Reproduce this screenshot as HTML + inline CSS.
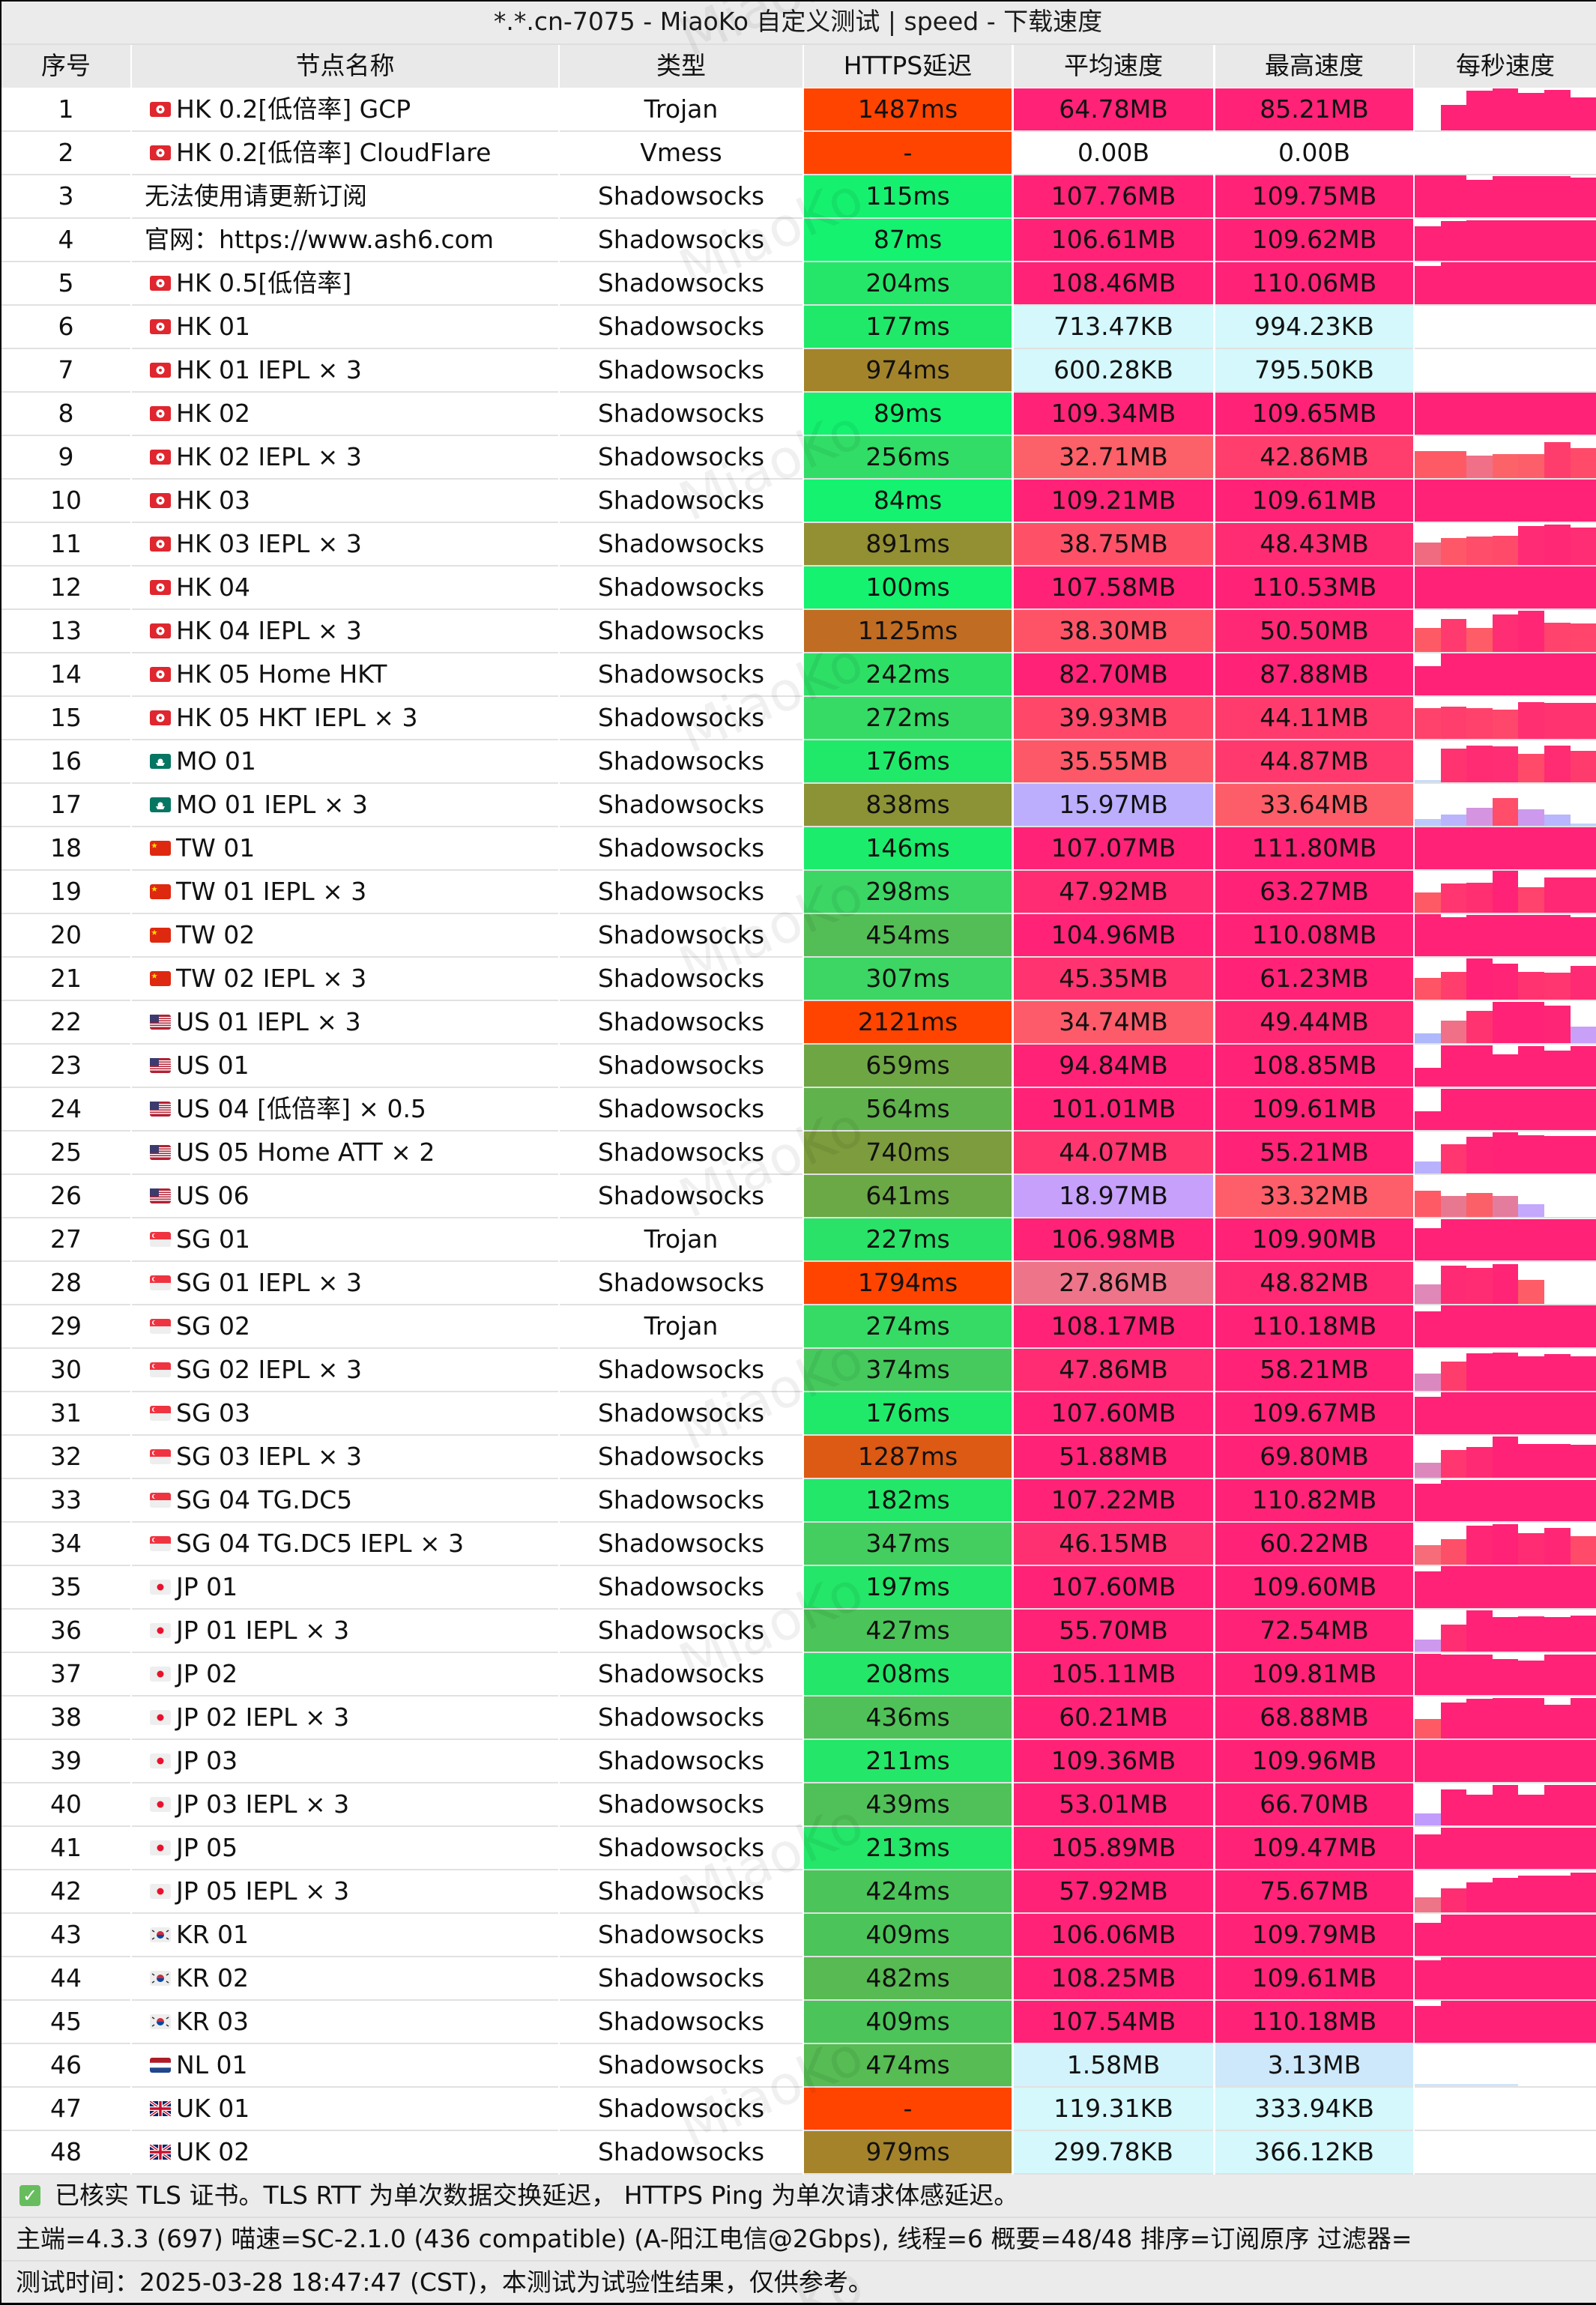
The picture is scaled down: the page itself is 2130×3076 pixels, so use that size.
<!DOCTYPE html>
<html><head><meta charset="utf-8"><style>
*{margin:0;padding:0;box-sizing:border-box}
body{width:2130px;height:3076px;overflow:hidden;background:#fff;font-family:"DejaVu Sans","Noto Sans CJK SC",sans-serif;font-size:33px;color:#111}
#w{position:relative;width:2130px;height:3076px;overflow:hidden;background:#fff}
.ttl{position:absolute;left:0;top:0;width:2130px;height:58px;background:#ebebeb;border-top:2px solid #000;line-height:54px;text-align:center;color:#1a1a1a}
.sep{position:absolute;left:0;top:58px;width:2130px;height:2px;background:#dedede}
.hr{position:absolute;left:0;top:60px;width:2130px;height:57px}
.hr>div{position:absolute;top:0;height:57px;line-height:55px;background:#e9e9e9;text-align:center;white-space:nowrap}
.nh{left:176px;width:569px}
.r{position:absolute;left:0;width:2130px;height:58px}
.r>div{position:absolute;top:0;height:58px;border-bottom:2px solid #e1e1e1;line-height:56px;text-align:center;white-space:nowrap}
.a{left:2px;width:172px}
.r>.n{left:176px;width:569px;text-align:left;padding-left:59px}
.r>.nf{padding-left:17px}
.t{left:747px;width:324px}
.h{left:1073px;width:277px}
.v{left:1353px;width:266px}
.m{left:1622px;width:264px}
.s{left:1888px;width:242px;overflow:hidden}
.s i{position:absolute;bottom:0;height:56px;background:#ff2277;display:block}
.k0{left:0;width:35px}.k1{left:35px;width:34px}.k2{left:69px;width:35px}.k3{left:104px;width:34px}.k4{left:138px;width:35px}.k5{left:173px;width:35px}.k6{left:208px;width:34px}
.P{background:#ff2277}
.C{background:#d4f8fb}
.f{position:absolute;left:24px;top:18px;width:28px;height:20px}
.ft{position:absolute;left:0;width:2130px;height:58px;background:#ebebeb;line-height:56px;padding-left:21px;white-space:nowrap;border-bottom:2px solid #dcdcdc}
.lb{position:absolute;left:0;top:0;width:2px;height:3076px;background:#000;z-index:6}
.bb{position:absolute;left:0;top:3073px;width:2130px;height:3px;background:#000;z-index:6}
.ck{position:absolute;left:26px;top:14px;width:28px;height:28px;background:#67bd5d;border-radius:4px;color:#fff;font-size:24px;line-height:28px;text-align:center}
.wm{position:absolute;z-index:5;left:900px;font-size:72px;line-height:1;color:rgba(0,0,0,.06);transform:rotate(-24deg);white-space:nowrap;font-family:"DejaVu Sans",sans-serif}
</style></head><body><div id="w">

<div class="ttl">*.*.cn-7075 - MiaoKo 自定义测试 | speed - 下载速度</div>
<div class="sep"></div>
<div class="hr">
<div class="a">序号</div><div class="nh">节点名称</div><div class="t">类型</div><div class="h">HTTPS延迟</div><div class="v">平均速度</div><div class="m">最高速度</div><div class="s">每秒速度</div>
</div>

<div class="r" style="top:118px"><div class="a">1</div><div class="n"><svg class="f" viewBox="0 0 28 20"><rect width="28" height="20" rx="3" fill="#e0262e"/><circle cx="14" cy="10" r="5.5" fill="#fff"/><circle cx="14" cy="10" r="2" fill="#e0262e"/></svg>HK 0.2[低倍率] GCP</div><div class="t">Trojan</div><div class="h" style="background:#ff4400">1487ms</div><div class="v P">64.78MB</div><div class="m P">85.21MB</div><div class="s"><i class="k1" style="height:34px"></i><i class="k2" style="height:53px"></i><i class="k3"></i><i class="k4" style="height:50px"></i><i class="k5" style="height:54px"></i><i class="k6" style="height:44px"></i></div></div>

<div class="r" style="top:176px"><div class="a">2</div><div class="n"><svg class="f" viewBox="0 0 28 20"><rect width="28" height="20" rx="3" fill="#e0262e"/><circle cx="14" cy="10" r="5.5" fill="#fff"/><circle cx="14" cy="10" r="2" fill="#e0262e"/></svg>HK 0.2[低倍率] CloudFlare</div><div class="t">Vmess</div><div class="h" style="background:#ff4400">-</div><div class="v">0.00B</div><div class="m">0.00B</div><div class="s"></div></div>

<div class="r" style="top:234px"><div class="a">3</div><div class="n nf">无法使用请更新订阅</div><div class="t">Shadowsocks</div><div class="h" style="background:#16f06f">115ms</div><div class="v P">107.76MB</div><div class="m P">109.75MB</div><div class="s"><i class="k0"></i><i class="k1"></i><i class="k2" style="height:50px"></i><i class="k3" style="height:55px"></i><i class="k4" style="height:55px"></i><i class="k5" style="height:55px"></i><i class="k6" style="height:53px"></i></div></div>

<div class="r" style="top:292px"><div class="a">4</div><div class="n nf">官网：https://www.ash6.com</div><div class="t">Shadowsocks</div><div class="h" style="background:#14f270">87ms</div><div class="v P">106.61MB</div><div class="m P">109.62MB</div><div class="s"><i class="k0" style="height:46px"></i><i class="k1" style="height:53px"></i><i class="k2" style="height:54px"></i><i class="k3" style="height:54px"></i><i class="k4" style="height:54px"></i><i class="k5" style="height:54px"></i><i class="k6" style="height:54px"></i></div></div>

<div class="r" style="top:350px"><div class="a">5</div><div class="n"><svg class="f" viewBox="0 0 28 20"><rect width="28" height="20" rx="3" fill="#e0262e"/><circle cx="14" cy="10" r="5.5" fill="#fff"/><circle cx="14" cy="10" r="2" fill="#e0262e"/></svg>HK 0.5[低倍率]</div><div class="t">Shadowsocks</div><div class="h" style="background:#25e668">204ms</div><div class="v P">108.46MB</div><div class="m P">110.06MB</div><div class="s"><i class="k0" style="height:51px"></i><i class="k1"></i><i class="k2"></i><i class="k3"></i><i class="k4"></i><i class="k5"></i><i class="k6"></i></div></div>

<div class="r" style="top:408px"><div class="a">6</div><div class="n"><svg class="f" viewBox="0 0 28 20"><rect width="28" height="20" rx="3" fill="#e0262e"/><circle cx="14" cy="10" r="5.5" fill="#fff"/><circle cx="14" cy="10" r="2" fill="#e0262e"/></svg>HK 01</div><div class="t">Shadowsocks</div><div class="h" style="background:#20e96a">177ms</div><div class="v C">713.47KB</div><div class="m C">994.23KB</div><div class="s"></div></div>

<div class="r" style="top:466px"><div class="a">7</div><div class="n"><svg class="f" viewBox="0 0 28 20"><rect width="28" height="20" rx="3" fill="#e0262e"/><circle cx="14" cy="10" r="5.5" fill="#fff"/><circle cx="14" cy="10" r="2" fill="#e0262e"/></svg>HK 01 IEPL × 3</div><div class="t">Shadowsocks</div><div class="h" style="background:#a3842b">974ms</div><div class="v C">600.28KB</div><div class="m C">795.50KB</div><div class="s"></div></div>

<div class="r" style="top:524px"><div class="a">8</div><div class="n"><svg class="f" viewBox="0 0 28 20"><rect width="28" height="20" rx="3" fill="#e0262e"/><circle cx="14" cy="10" r="5.5" fill="#fff"/><circle cx="14" cy="10" r="2" fill="#e0262e"/></svg>HK 02</div><div class="t">Shadowsocks</div><div class="h" style="background:#14f270">89ms</div><div class="v P">109.34MB</div><div class="m P">109.65MB</div><div class="s"><i class="k0"></i><i class="k1"></i><i class="k2"></i><i class="k3"></i><i class="k4"></i><i class="k5"></i><i class="k6"></i></div></div>

<div class="r" style="top:582px"><div class="a">9</div><div class="n"><svg class="f" viewBox="0 0 28 20"><rect width="28" height="20" rx="3" fill="#e0262e"/><circle cx="14" cy="10" r="5.5" fill="#fff"/><circle cx="14" cy="10" r="2" fill="#e0262e"/></svg>HK 02 IEPL × 3</div><div class="t">Shadowsocks</div><div class="h" style="background:#31dd66">256ms</div><div class="v" style="background:#fc6068">32.71MB</div><div class="m" style="background:#ff3e6d">42.86MB</div><div class="s"><i class="k0" style="height:36px;background:#fe5a66"></i><i class="k1" style="height:36px;background:#fe5a66"></i><i class="k2" style="height:30px;background:#f07088"></i><i class="k3" style="height:32px;background:#fb6369"></i><i class="k4" style="height:32px;background:#fc5f69"></i><i class="k5" style="height:48px;background:#ff3d6c"></i><i class="k6" style="height:40px;background:#ff4a6a"></i></div></div>

<div class="r" style="top:640px"><div class="a">10</div><div class="n"><svg class="f" viewBox="0 0 28 20"><rect width="28" height="20" rx="3" fill="#e0262e"/><circle cx="14" cy="10" r="5.5" fill="#fff"/><circle cx="14" cy="10" r="2" fill="#e0262e"/></svg>HK 03</div><div class="t">Shadowsocks</div><div class="h" style="background:#14f270">84ms</div><div class="v P">109.21MB</div><div class="m P">109.61MB</div><div class="s"><i class="k0"></i><i class="k1"></i><i class="k2"></i><i class="k3"></i><i class="k4"></i><i class="k5"></i><i class="k6"></i></div></div>

<div class="r" style="top:698px"><div class="a">11</div><div class="n"><svg class="f" viewBox="0 0 28 20"><rect width="28" height="20" rx="3" fill="#e0262e"/><circle cx="14" cy="10" r="5.5" fill="#fff"/><circle cx="14" cy="10" r="2" fill="#e0262e"/></svg>HK 03 IEPL × 3</div><div class="t">Shadowsocks</div><div class="h" style="background:#938f33">891ms</div><div class="v" style="background:#fe5167">38.75MB</div><div class="m" style="background:#ff2b73">48.43MB</div><div class="s"><i class="k0" style="height:30px;background:#f06a80"></i><i class="k1" style="height:36px;background:#fe5868"></i><i class="k2" style="height:38px;background:#ff4d6a"></i><i class="k3" style="height:39px;background:#ff4a6a"></i><i class="k4" style="height:52px;background:#ff2b74"></i><i class="k5" style="height:54px;background:#ff2874"></i><i class="k6" style="height:50px;background:#ff2d73"></i></div></div>

<div class="r" style="top:756px"><div class="a">12</div><div class="n"><svg class="f" viewBox="0 0 28 20"><rect width="28" height="20" rx="3" fill="#e0262e"/><circle cx="14" cy="10" r="5.5" fill="#fff"/><circle cx="14" cy="10" r="2" fill="#e0262e"/></svg>HK 04</div><div class="t">Shadowsocks</div><div class="h" style="background:#14f270">100ms</div><div class="v P">107.58MB</div><div class="m P">110.53MB</div><div class="s"><i class="k0"></i><i class="k1"></i><i class="k2"></i><i class="k3"></i><i class="k4"></i><i class="k5"></i><i class="k6"></i></div></div>

<div class="r" style="top:814px"><div class="a">13</div><div class="n"><svg class="f" viewBox="0 0 28 20"><rect width="28" height="20" rx="3" fill="#e0262e"/><circle cx="14" cy="10" r="5.5" fill="#fff"/><circle cx="14" cy="10" r="2" fill="#e0262e"/></svg>HK 04 IEPL × 3</div><div class="t">Shadowsocks</div><div class="h" style="background:#c06c22">1125ms</div><div class="v" style="background:#fe5367">38.30MB</div><div class="m" style="background:#ff2874">50.50MB</div><div class="s"><i class="k0" style="height:32px;background:#fe5a66"></i><i class="k1" style="height:44px;background:#ff3a6e"></i><i class="k2" style="height:32px;background:#fe5c66"></i><i class="k3" style="height:50px;background:#ff2d73"></i><i class="k4" style="height:55px;background:#ff2775"></i><i class="k5" style="height:39px;background:#ff436c"></i><i class="k6" style="height:38px;background:#ff456c"></i></div></div>

<div class="r" style="top:872px"><div class="a">14</div><div class="n"><svg class="f" viewBox="0 0 28 20"><rect width="28" height="20" rx="3" fill="#e0262e"/><circle cx="14" cy="10" r="5.5" fill="#fff"/><circle cx="14" cy="10" r="2" fill="#e0262e"/></svg>HK 05 Home HKT</div><div class="t">Shadowsocks</div><div class="h" style="background:#2edf66">242ms</div><div class="v P">82.70MB</div><div class="m P">87.88MB</div><div class="s"><i class="k0" style="height:39px"></i><i class="k1"></i><i class="k2"></i><i class="k3"></i><i class="k4"></i><i class="k5"></i><i class="k6"></i></div></div>

<div class="r" style="top:930px"><div class="a">15</div><div class="n"><svg class="f" viewBox="0 0 28 20"><rect width="28" height="20" rx="3" fill="#e0262e"/><circle cx="14" cy="10" r="5.5" fill="#fff"/><circle cx="14" cy="10" r="2" fill="#e0262e"/></svg>HK 05 HKT IEPL × 3</div><div class="t">Shadowsocks</div><div class="h" style="background:#35db65">272ms</div><div class="v" style="background:#ff4769">39.93MB</div><div class="m" style="background:#ff3b6d">44.11MB</div><div class="s"><i class="k0" style="height:41px;background:#ff426c"></i><i class="k1" style="height:43px;background:#ff3e6d"></i><i class="k2" style="height:41px;background:#ff426c"></i><i class="k3" style="height:39px;background:#ff466b"></i><i class="k4" style="height:49px;background:#ff2f72"></i><i class="k5" style="height:48px;background:#ff3370"></i><i class="k6" style="height:48px;background:#ff3370"></i></div></div>

<div class="r" style="top:988px"><div class="a">16</div><div class="n"><svg class="f" viewBox="0 0 28 20"><rect width="28" height="20" rx="3" fill="#067662"/><circle cx="14" cy="10" r="3.5" fill="#fff"/><path d="M8 12h12l-2 4h-8z" fill="#fff"/></svg>MO 01</div><div class="t">Shadowsocks</div><div class="h" style="background:#20e96a">176ms</div><div class="v" style="background:#fd5867">35.55MB</div><div class="m" style="background:#ff396e">44.87MB</div><div class="s"><i class="k0" style="height:3px;background:#c8dcf8"></i><i class="k1" style="height:45px;background:#ff3370"></i><i class="k2" style="height:49px;background:#ff2c73"></i><i class="k3" style="height:48px;background:#ff2d73"></i><i class="k4" style="height:38px;background:#ff4a6a"></i><i class="k5" style="height:49px;background:#ff2b73"></i><i class="k6" style="height:42px;background:#ff3b6e"></i></div></div>

<div class="r" style="top:1046px"><div class="a">17</div><div class="n"><svg class="f" viewBox="0 0 28 20"><rect width="28" height="20" rx="3" fill="#067662"/><circle cx="14" cy="10" r="3.5" fill="#fff"/><path d="M8 12h12l-2 4h-8z" fill="#fff"/></svg>MO 01 IEPL × 3</div><div class="t">Shadowsocks</div><div class="h" style="background:#8b9336">838ms</div><div class="v" style="background:#bcaefd">15.97MB</div><div class="m" style="background:#fd5d68">33.64MB</div><div class="s"><i class="k0" style="height:9px;background:#bcc8fc"></i><i class="k1" style="height:15px;background:#b9b4fc"></i><i class="k2" style="height:24px;background:#d494e0"></i><i class="k3" style="height:37px;background:#ff4d6a"></i><i class="k4" style="height:22px;background:#cc99ee"></i><i class="k5" style="height:15px;background:#b8b6fd"></i><i class="k6" style="height:3px;background:#c0d0fc"></i></div></div>

<div class="r" style="top:1104px"><div class="a">18</div><div class="n"><svg class="f" viewBox="0 0 28 20"><rect width="28" height="20" rx="3" fill="#de2910"/><polygon points="6,2.5 7,5.3 10,5.3 7.6,7 8.5,9.8 6,8.1 3.5,9.8 4.4,7 2,5.3 5,5.3" fill="#ffde00"/></svg>TW 01</div><div class="t">Shadowsocks</div><div class="h" style="background:#1bec6c">146ms</div><div class="v P">107.07MB</div><div class="m P">111.80MB</div><div class="s"><i class="k0"></i><i class="k1"></i><i class="k2"></i><i class="k3"></i><i class="k4"></i><i class="k5"></i><i class="k6"></i></div></div>

<div class="r" style="top:1162px"><div class="a">19</div><div class="n"><svg class="f" viewBox="0 0 28 20"><rect width="28" height="20" rx="3" fill="#de2910"/><polygon points="6,2.5 7,5.3 10,5.3 7.6,7 8.5,9.8 6,8.1 3.5,9.8 4.4,7 2,5.3 5,5.3" fill="#ffde00"/></svg>TW 01 IEPL × 3</div><div class="t">Shadowsocks</div><div class="h" style="background:#3cd664">298ms</div><div class="v" style="background:#ff2c73">47.92MB</div><div class="m P">63.27MB</div><div class="s"><i class="k0" style="height:27px;background:#fe5a66"></i><i class="k1" style="height:39px;background:#ff3670"></i><i class="k2" style="height:40px;background:#ff2f72"></i><i class="k3"></i><i class="k4" style="height:34px;background:#ff436c"></i><i class="k5" style="height:47px;background:#ff2875"></i><i class="k6" style="height:47px;background:#ff2875"></i></div></div>

<div class="r" style="top:1220px"><div class="a">20</div><div class="n"><svg class="f" viewBox="0 0 28 20"><rect width="28" height="20" rx="3" fill="#de2910"/><polygon points="6,2.5 7,5.3 10,5.3 7.6,7 8.5,9.8 6,8.1 3.5,9.8 4.4,7 2,5.3 5,5.3" fill="#ffde00"/></svg>TW 02</div><div class="t">Shadowsocks</div><div class="h" style="background:#53be55">454ms</div><div class="v P">104.96MB</div><div class="m P">110.08MB</div><div class="s"><i class="k0"></i><i class="k1" style="height:52px"></i><i class="k2" style="height:55px"></i><i class="k3" style="height:55px"></i><i class="k4" style="height:55px"></i><i class="k5" style="height:55px"></i><i class="k6" style="height:52px"></i></div></div>

<div class="r" style="top:1278px"><div class="a">21</div><div class="n"><svg class="f" viewBox="0 0 28 20"><rect width="28" height="20" rx="3" fill="#de2910"/><polygon points="6,2.5 7,5.3 10,5.3 7.6,7 8.5,9.8 6,8.1 3.5,9.8 4.4,7 2,5.3 5,5.3" fill="#ffde00"/></svg>TW 02 IEPL × 3</div><div class="t">Shadowsocks</div><div class="h" style="background:#3dd563">307ms</div><div class="v" style="background:#ff3370">45.35MB</div><div class="m P">61.23MB</div><div class="s"><i class="k0" style="height:29px;background:#fe5466"></i><i class="k1" style="height:37px;background:#ff3e6d"></i><i class="k2" style="height:55px"></i><i class="k3" style="height:48px;background:#ff2475"></i><i class="k4" style="height:37px;background:#ff3370"></i><i class="k5" style="height:36px;background:#ff3670"></i><i class="k6" style="height:45px;background:#ff2a74"></i></div></div>

<div class="r" style="top:1336px"><div class="a">22</div><div class="n"><svg class="f" viewBox="0 0 28 20"><rect width="28" height="20" rx="3" fill="#b22234"/><path d="M0 3h28v1.5H0zM0 6h28v1.5H0zM0 9h28v1.5H0zM0 12h28v1.5H0zM0 15h28v1.5H0z" fill="#fff"/><rect width="12" height="10.5" fill="#3c3b6e"/></svg>US 01 IEPL × 3</div><div class="t">Shadowsocks</div><div class="h" style="background:#ff4400">2121ms</div><div class="v" style="background:#fd5b6a">34.74MB</div><div class="m" style="background:#ff2873">49.44MB</div><div class="s"><i class="k0" style="height:13px;background:#b0b8fc"></i><i class="k1" style="height:30px;background:#f07088"></i><i class="k2" style="height:43px;background:#ff3370"></i><i class="k3" style="height:55px"></i><i class="k4" style="height:55px"></i><i class="k5" style="height:50px;background:#ff2576"></i><i class="k6" style="height:22px;background:#c8a0f8"></i></div></div>

<div class="r" style="top:1394px"><div class="a">23</div><div class="n"><svg class="f" viewBox="0 0 28 20"><rect width="28" height="20" rx="3" fill="#b22234"/><path d="M0 3h28v1.5H0zM0 6h28v1.5H0zM0 9h28v1.5H0zM0 12h28v1.5H0zM0 15h28v1.5H0z" fill="#fff"/><rect width="12" height="10.5" fill="#3c3b6e"/></svg>US 01</div><div class="t">Shadowsocks</div><div class="h" style="background:#6ea644">659ms</div><div class="v P">94.84MB</div><div class="m P">108.85MB</div><div class="s"><i class="k0" style="height:25px"></i><i class="k1" style="height:55px"></i><i class="k2" style="height:55px"></i><i class="k3" style="height:43px"></i><i class="k4" style="height:54px"></i><i class="k5" style="height:48px"></i><i class="k6" style="height:54px"></i></div></div>

<div class="r" style="top:1452px"><div class="a">24</div><div class="n"><svg class="f" viewBox="0 0 28 20"><rect width="28" height="20" rx="3" fill="#b22234"/><path d="M0 3h28v1.5H0zM0 6h28v1.5H0zM0 9h28v1.5H0zM0 12h28v1.5H0zM0 15h28v1.5H0z" fill="#fff"/><rect width="12" height="10.5" fill="#3c3b6e"/></svg>US 04 [低倍率] × 0.5</div><div class="t">Shadowsocks</div><div class="h" style="background:#60b24c">564ms</div><div class="v P">101.01MB</div><div class="m P">109.61MB</div><div class="s"><i class="k0" style="height:25px"></i><i class="k1" style="height:55px"></i><i class="k2" style="height:55px"></i><i class="k3" style="height:55px"></i><i class="k4" style="height:55px"></i><i class="k5" style="height:55px"></i><i class="k6" style="height:55px"></i></div></div>

<div class="r" style="top:1510px"><div class="a">25</div><div class="n"><svg class="f" viewBox="0 0 28 20"><rect width="28" height="20" rx="3" fill="#b22234"/><path d="M0 3h28v1.5H0zM0 6h28v1.5H0zM0 9h28v1.5H0zM0 12h28v1.5H0zM0 15h28v1.5H0z" fill="#fff"/><rect width="12" height="10.5" fill="#3c3b6e"/></svg>US 05 Home ATT × 2</div><div class="t">Shadowsocks</div><div class="h" style="background:#7c9c3d">740ms</div><div class="v" style="background:#ff3570">44.07MB</div><div class="m P">55.21MB</div><div class="s"><i class="k0" style="height:16px;background:#b8b2fc"></i><i class="k1" style="height:39px;background:#ff3670"></i><i class="k2" style="height:49px;background:#ff2576"></i><i class="k3" style="height:55px"></i><i class="k4" style="height:51px"></i><i class="k5" style="height:50px"></i><i class="k6" style="height:50px"></i></div></div>

<div class="r" style="top:1568px"><div class="a">26</div><div class="n"><svg class="f" viewBox="0 0 28 20"><rect width="28" height="20" rx="3" fill="#b22234"/><path d="M0 3h28v1.5H0zM0 6h28v1.5H0zM0 9h28v1.5H0zM0 12h28v1.5H0zM0 15h28v1.5H0z" fill="#fff"/><rect width="12" height="10.5" fill="#3c3b6e"/></svg>US 06</div><div class="t">Shadowsocks</div><div class="h" style="background:#6ba846">641ms</div><div class="v" style="background:#c6a0fa">18.97MB</div><div class="m" style="background:#fd5e69">33.32MB</div><div class="s"><i class="k0" style="height:35px;background:#fe5a66"></i><i class="k1" style="height:28px;background:#e87890"></i><i class="k2" style="height:32px;background:#fb6068"></i><i class="k3" style="height:28px;background:#e47c9e"></i><i class="k4" style="height:17px;background:#c4a8fc"></i></div></div>

<div class="r" style="top:1626px"><div class="a">27</div><div class="n"><svg class="f" viewBox="0 0 28 20"><rect width="28" height="20" rx="3" fill="#eee"/><path d="M3 0h22a3 3 0 0 1 3 3v7H0V3a3 3 0 0 1 3-3z" fill="#ef3340"/><circle cx="6" cy="5" r="3" fill="#fff"/><circle cx="7.3" cy="5" r="2.7" fill="#ef3340"/></svg>SG 01</div><div class="t">Trojan</div><div class="h" style="background:#2ae267">227ms</div><div class="v P">106.98MB</div><div class="m P">109.90MB</div><div class="s"><i class="k0" style="height:43px"></i><i class="k1" style="height:55px"></i><i class="k2" style="height:55px"></i><i class="k3" style="height:55px"></i><i class="k4" style="height:55px"></i><i class="k5" style="height:55px"></i><i class="k6" style="height:55px"></i></div></div>

<div class="r" style="top:1684px"><div class="a">28</div><div class="n"><svg class="f" viewBox="0 0 28 20"><rect width="28" height="20" rx="3" fill="#eee"/><path d="M3 0h22a3 3 0 0 1 3 3v7H0V3a3 3 0 0 1 3-3z" fill="#ef3340"/><circle cx="6" cy="5" r="3" fill="#fff"/><circle cx="7.3" cy="5" r="2.7" fill="#ef3340"/></svg>SG 01 IEPL × 3</div><div class="t">Shadowsocks</div><div class="h" style="background:#ff4400">1794ms</div><div class="v" style="background:#ee7489">27.86MB</div><div class="m" style="background:#ff2a73">48.82MB</div><div class="s"><i class="k0" style="height:26px;background:#e088b8"></i><i class="k1" style="height:51px;background:#ff2a74"></i><i class="k2" style="height:48px;background:#ff2c73"></i><i class="k3" style="height:53px;background:#ff2475"></i><i class="k4" style="height:32px;background:#fe5c66"></i></div></div>

<div class="r" style="top:1742px"><div class="a">29</div><div class="n"><svg class="f" viewBox="0 0 28 20"><rect width="28" height="20" rx="3" fill="#eee"/><path d="M3 0h22a3 3 0 0 1 3 3v7H0V3a3 3 0 0 1 3-3z" fill="#ef3340"/><circle cx="6" cy="5" r="3" fill="#fff"/><circle cx="7.3" cy="5" r="2.7" fill="#ef3340"/></svg>SG 02</div><div class="t">Trojan</div><div class="h" style="background:#36db65">274ms</div><div class="v P">108.17MB</div><div class="m P">110.18MB</div><div class="s"><i class="k0" style="height:48px"></i><i class="k1"></i><i class="k2"></i><i class="k3"></i><i class="k4"></i><i class="k5"></i><i class="k6"></i></div></div>

<div class="r" style="top:1800px"><div class="a">30</div><div class="n"><svg class="f" viewBox="0 0 28 20"><rect width="28" height="20" rx="3" fill="#eee"/><path d="M3 0h22a3 3 0 0 1 3 3v7H0V3a3 3 0 0 1 3-3z" fill="#ef3340"/><circle cx="6" cy="5" r="3" fill="#fff"/><circle cx="7.3" cy="5" r="2.7" fill="#ef3340"/></svg>SG 02 IEPL × 3</div><div class="t">Shadowsocks</div><div class="h" style="background:#46ca5d">374ms</div><div class="v" style="background:#ff2c73">47.86MB</div><div class="m P">58.21MB</div><div class="s"><i class="k0" style="height:23px;background:#dc88c0"></i><i class="k1" style="height:39px;background:#ff3d6c"></i><i class="k2" style="height:50px"></i><i class="k3" style="height:51px"></i><i class="k4" style="height:46px"></i><i class="k5" style="height:49px"></i><i class="k6" style="height:46px"></i></div></div>

<div class="r" style="top:1858px"><div class="a">31</div><div class="n"><svg class="f" viewBox="0 0 28 20"><rect width="28" height="20" rx="3" fill="#eee"/><path d="M3 0h22a3 3 0 0 1 3 3v7H0V3a3 3 0 0 1 3-3z" fill="#ef3340"/><circle cx="6" cy="5" r="3" fill="#fff"/><circle cx="7.3" cy="5" r="2.7" fill="#ef3340"/></svg>SG 03</div><div class="t">Shadowsocks</div><div class="h" style="background:#20e96a">176ms</div><div class="v P">107.60MB</div><div class="m P">109.67MB</div><div class="s"><i class="k0" style="height:50px"></i><i class="k1"></i><i class="k2"></i><i class="k3"></i><i class="k4"></i><i class="k5"></i><i class="k6"></i></div></div>

<div class="r" style="top:1916px"><div class="a">32</div><div class="n"><svg class="f" viewBox="0 0 28 20"><rect width="28" height="20" rx="3" fill="#eee"/><path d="M3 0h22a3 3 0 0 1 3 3v7H0V3a3 3 0 0 1 3-3z" fill="#ef3340"/><circle cx="6" cy="5" r="3" fill="#fff"/><circle cx="7.3" cy="5" r="2.7" fill="#ef3340"/></svg>SG 03 IEPL × 3</div><div class="t">Shadowsocks</div><div class="h" style="background:#dc5a14">1287ms</div><div class="v P">51.88MB</div><div class="m P">69.80MB</div><div class="s"><i class="k0" style="height:20px;background:#dc88bc"></i><i class="k1" style="height:37px;background:#ff3670"></i><i class="k2" style="height:41px;background:#ff2a74"></i><i class="k3" style="height:55px"></i><i class="k4" style="height:45px"></i><i class="k5" style="height:45px"></i><i class="k6" style="height:44px"></i></div></div>

<div class="r" style="top:1974px"><div class="a">33</div><div class="n"><svg class="f" viewBox="0 0 28 20"><rect width="28" height="20" rx="3" fill="#eee"/><path d="M3 0h22a3 3 0 0 1 3 3v7H0V3a3 3 0 0 1 3-3z" fill="#ef3340"/><circle cx="6" cy="5" r="3" fill="#fff"/><circle cx="7.3" cy="5" r="2.7" fill="#ef3340"/></svg>SG 04 TG.DC5</div><div class="t">Shadowsocks</div><div class="h" style="background:#22e769">182ms</div><div class="v P">107.22MB</div><div class="m P">110.82MB</div><div class="s"><i class="k0" style="height:50px"></i><i class="k1" style="height:55px"></i><i class="k2" style="height:55px"></i><i class="k3" style="height:55px"></i><i class="k4" style="height:55px"></i><i class="k5" style="height:55px"></i><i class="k6" style="height:55px"></i></div></div>

<div class="r" style="top:2032px"><div class="a">34</div><div class="n"><svg class="f" viewBox="0 0 28 20"><rect width="28" height="20" rx="3" fill="#eee"/><path d="M3 0h22a3 3 0 0 1 3 3v7H0V3a3 3 0 0 1 3-3z" fill="#ef3340"/><circle cx="6" cy="5" r="3" fill="#fff"/><circle cx="7.3" cy="5" r="2.7" fill="#ef3340"/></svg>SG 04 TG.DC5 IEPL × 3</div><div class="t">Shadowsocks</div><div class="h" style="background:#43ce5f">347ms</div><div class="v" style="background:#ff3072">46.15MB</div><div class="m P">60.22MB</div><div class="s"><i class="k0" style="height:26px;background:#f66c78"></i><i class="k1" style="height:34px;background:#fe4f69"></i><i class="k2" style="height:52px;background:#ff2676"></i><i class="k3" style="height:54px"></i><i class="k4" style="height:42px;background:#ff2c73"></i><i class="k5" style="height:49px;background:#ff2775"></i><i class="k6" style="height:38px;background:#ff4a6a"></i></div></div>

<div class="r" style="top:2090px"><div class="a">35</div><div class="n"><svg class="f" viewBox="0 0 28 20"><rect width="28" height="20" rx="3" fill="#eee"/><circle cx="14" cy="10" r="4.5" fill="#e8112d"/></svg>JP 01</div><div class="t">Shadowsocks</div><div class="h" style="background:#24e668">197ms</div><div class="v P">107.60MB</div><div class="m P">109.60MB</div><div class="s"><i class="k0" style="height:49px"></i><i class="k1"></i><i class="k2"></i><i class="k3"></i><i class="k4"></i><i class="k5"></i><i class="k6"></i></div></div>

<div class="r" style="top:2148px"><div class="a">36</div><div class="n"><svg class="f" viewBox="0 0 28 20"><rect width="28" height="20" rx="3" fill="#eee"/><circle cx="14" cy="10" r="4.5" fill="#e8112d"/></svg>JP 01 IEPL × 3</div><div class="t">Shadowsocks</div><div class="h" style="background:#4bc459">427ms</div><div class="v P">55.70MB</div><div class="m P">72.54MB</div><div class="s"><i class="k0" style="height:16px;background:#cc99ee"></i><i class="k1" style="height:36px;background:#ff2e73"></i><i class="k2" style="height:55px"></i><i class="k3" style="height:46px"></i><i class="k4" style="height:47px"></i><i class="k5" style="height:46px"></i><i class="k6" style="height:48px"></i></div></div>

<div class="r" style="top:2206px"><div class="a">37</div><div class="n"><svg class="f" viewBox="0 0 28 20"><rect width="28" height="20" rx="3" fill="#eee"/><circle cx="14" cy="10" r="4.5" fill="#e8112d"/></svg>JP 02</div><div class="t">Shadowsocks</div><div class="h" style="background:#24e668">208ms</div><div class="v P">105.11MB</div><div class="m P">109.81MB</div><div class="s"><i class="k0" style="height:55px"></i><i class="k1" style="height:54px"></i><i class="k2" style="height:54px"></i><i class="k3" style="height:48px"></i><i class="k4" style="height:46px"></i><i class="k5" style="height:54px"></i><i class="k6" style="height:54px"></i></div></div>

<div class="r" style="top:2264px"><div class="a">38</div><div class="n"><svg class="f" viewBox="0 0 28 20"><rect width="28" height="20" rx="3" fill="#eee"/><circle cx="14" cy="10" r="4.5" fill="#e8112d"/></svg>JP 02 IEPL × 3</div><div class="t">Shadowsocks</div><div class="h" style="background:#50c158">436ms</div><div class="v P">60.21MB</div><div class="m P">68.88MB</div><div class="s"><i class="k0" style="height:26px;background:#fe5a66"></i><i class="k1" style="height:48px"></i><i class="k2" style="height:53px"></i><i class="k3" style="height:54px"></i><i class="k4" style="height:54px"></i><i class="k5" style="height:45px"></i><i class="k6" style="height:54px"></i></div></div>

<div class="r" style="top:2322px"><div class="a">39</div><div class="n"><svg class="f" viewBox="0 0 28 20"><rect width="28" height="20" rx="3" fill="#eee"/><circle cx="14" cy="10" r="4.5" fill="#e8112d"/></svg>JP 03</div><div class="t">Shadowsocks</div><div class="h" style="background:#24e668">211ms</div><div class="v P">109.36MB</div><div class="m P">109.96MB</div><div class="s"><i class="k0"></i><i class="k1"></i><i class="k2"></i><i class="k3"></i><i class="k4"></i><i class="k5"></i><i class="k6"></i></div></div>

<div class="r" style="top:2380px"><div class="a">40</div><div class="n"><svg class="f" viewBox="0 0 28 20"><rect width="28" height="20" rx="3" fill="#eee"/><circle cx="14" cy="10" r="4.5" fill="#e8112d"/></svg>JP 03 IEPL × 3</div><div class="t">Shadowsocks</div><div class="h" style="background:#50c158">439ms</div><div class="v P">53.01MB</div><div class="m P">66.70MB</div><div class="s"><i class="k0" style="height:16px;background:#c09cfc"></i><i class="k1" style="height:48px"></i><i class="k2" style="height:41px"></i><i class="k3" style="height:54px"></i><i class="k4" style="height:41px"></i><i class="k5" style="height:54px"></i><i class="k6" style="height:54px"></i></div></div>

<div class="r" style="top:2438px"><div class="a">41</div><div class="n"><svg class="f" viewBox="0 0 28 20"><rect width="28" height="20" rx="3" fill="#eee"/><circle cx="14" cy="10" r="4.5" fill="#e8112d"/></svg>JP 05</div><div class="t">Shadowsocks</div><div class="h" style="background:#24e668">213ms</div><div class="v P">105.89MB</div><div class="m P">109.47MB</div><div class="s"><i class="k0" style="height:46px"></i><i class="k1" style="height:55px"></i><i class="k2" style="height:55px"></i><i class="k3" style="height:55px"></i><i class="k4" style="height:55px"></i><i class="k5" style="height:55px"></i><i class="k6" style="height:55px"></i></div></div>

<div class="r" style="top:2496px"><div class="a">42</div><div class="n"><svg class="f" viewBox="0 0 28 20"><rect width="28" height="20" rx="3" fill="#eee"/><circle cx="14" cy="10" r="4.5" fill="#e8112d"/></svg>JP 05 IEPL × 3</div><div class="t">Shadowsocks</div><div class="h" style="background:#4bc459">424ms</div><div class="v P">57.92MB</div><div class="m P">75.67MB</div><div class="s"><i class="k0" style="height:20px;background:#ee7488"></i><i class="k1" style="height:32px;background:#ff2e73"></i><i class="k2" style="height:40px"></i><i class="k3" style="height:46px"></i><i class="k4" style="height:49px"></i><i class="k5" style="height:49px"></i><i class="k6" style="height:53px"></i></div></div>

<div class="r" style="top:2554px"><div class="a">43</div><div class="n"><svg class="f" viewBox="0 0 28 20"><rect width="28" height="20" rx="3" fill="#eee"/><path d="M9 10a5 5 0 0 1 10 0z" fill="#cd2e3a"/><path d="M9 10a5 5 0 0 0 10 0z" fill="#0047a0"/><path d="M3 4l3 2M3 16l3-2M25 4l-3 2M25 16l-3-2" stroke="#333" stroke-width="1.5"/></svg>KR 01</div><div class="t">Shadowsocks</div><div class="h" style="background:#4bc459">409ms</div><div class="v P">106.06MB</div><div class="m P">109.79MB</div><div class="s"><i class="k0" style="height:44px"></i><i class="k1" style="height:55px"></i><i class="k2" style="height:55px"></i><i class="k3" style="height:55px"></i><i class="k4" style="height:55px"></i><i class="k5" style="height:55px"></i><i class="k6" style="height:55px"></i></div></div>

<div class="r" style="top:2612px"><div class="a">44</div><div class="n"><svg class="f" viewBox="0 0 28 20"><rect width="28" height="20" rx="3" fill="#eee"/><path d="M9 10a5 5 0 0 1 10 0z" fill="#cd2e3a"/><path d="M9 10a5 5 0 0 0 10 0z" fill="#0047a0"/><path d="M3 4l3 2M3 16l3-2M25 4l-3 2M25 16l-3-2" stroke="#333" stroke-width="1.5"/></svg>KR 02</div><div class="t">Shadowsocks</div><div class="h" style="background:#57ba52">482ms</div><div class="v P">108.25MB</div><div class="m P">109.61MB</div><div class="s"><i class="k0" style="height:52px"></i><i class="k1"></i><i class="k2"></i><i class="k3"></i><i class="k4"></i><i class="k5"></i><i class="k6"></i></div></div>

<div class="r" style="top:2670px"><div class="a">45</div><div class="n"><svg class="f" viewBox="0 0 28 20"><rect width="28" height="20" rx="3" fill="#eee"/><path d="M9 10a5 5 0 0 1 10 0z" fill="#cd2e3a"/><path d="M9 10a5 5 0 0 0 10 0z" fill="#0047a0"/><path d="M3 4l3 2M3 16l3-2M25 4l-3 2M25 16l-3-2" stroke="#333" stroke-width="1.5"/></svg>KR 03</div><div class="t">Shadowsocks</div><div class="h" style="background:#4bc459">409ms</div><div class="v P">107.54MB</div><div class="m P">110.18MB</div><div class="s"><i class="k0" style="height:49px"></i><i class="k1"></i><i class="k2"></i><i class="k3"></i><i class="k4"></i><i class="k5"></i><i class="k6"></i></div></div>

<div class="r" style="top:2728px"><div class="a">46</div><div class="n"><svg class="f" viewBox="0 0 28 20"><rect width="28" height="20" rx="3" fill="#21468b"/><path d="M3 0h22a3 3 0 0 1 3 3v10.3H0V3a3 3 0 0 1 3-3z" fill="#fff"/><path d="M3 0h22a3 3 0 0 1 3 3v3.7H0V3a3 3 0 0 1 3-3z" fill="#ae1c28"/></svg>NL 01</div><div class="t">Shadowsocks</div><div class="h" style="background:#56bc53">474ms</div><div class="v" style="background:#d2f3fb">1.58MB</div><div class="m" style="background:#cce8fa">3.13MB</div><div class="s"><i class="k0" style="height:3px;background:#cfe6fa"></i><i class="k1" style="height:3px;background:#cfe6fa"></i><i class="k2" style="height:3px;background:#cfe6fa"></i><i class="k3" style="height:3px;background:#cfe6fa"></i></div></div>

<div class="r" style="top:2786px"><div class="a">47</div><div class="n"><svg class="f" viewBox="0 0 28 20"><rect width="28" height="20" rx="2" fill="#012169"/><path d="M0 0L28 20M28 0L0 20" stroke="#fff" stroke-width="4"/><path d="M0 0L28 20M28 0L0 20" stroke="#c8102e" stroke-width="1.5"/><path d="M14 0v20M0 10h28" stroke="#fff" stroke-width="6"/><path d="M14 0v20M0 10h28" stroke="#c8102e" stroke-width="3.5"/></svg>UK 01</div><div class="t">Shadowsocks</div><div class="h" style="background:#ff4400">-</div><div class="v C">119.31KB</div><div class="m C">333.94KB</div><div class="s"></div></div>

<div class="r" style="top:2844px"><div class="a">48</div><div class="n"><svg class="f" viewBox="0 0 28 20"><rect width="28" height="20" rx="2" fill="#012169"/><path d="M0 0L28 20M28 0L0 20" stroke="#fff" stroke-width="4"/><path d="M0 0L28 20M28 0L0 20" stroke="#c8102e" stroke-width="1.5"/><path d="M14 0v20M0 10h28" stroke="#fff" stroke-width="6"/><path d="M14 0v20M0 10h28" stroke="#c8102e" stroke-width="3.5"/></svg>UK 02</div><div class="t">Shadowsocks</div><div class="h" style="background:#a4832a">979ms</div><div class="v C">299.78KB</div><div class="m C">366.12KB</div><div class="s"></div></div>

<div class="ft" style="top:2902px;padding-left:73px"><div class="ck">✓</div>已核实 TLS 证书。TLS RTT 为单次数据交换延迟， HTTPS Ping 为单次请求体感延迟。</div>
<div class="ft" style="top:2960px">主端=4.3.3 (697) 喵速=SC-2.1.0 (436 compatible) (A-阳江电信@2Gbps), 线程=6 概要=48/48 排序=订阅原序 过滤器=</div>
<div class="ft" style="top:3018px;border-bottom:none">测试时间：2025-03-28 18:47:47 (CST)，本测试为试验性结果，仅供参考。</div>

<div class="wm" style="top:-35px">MiaoKo</div>
<div class="wm" style="top:275px">MiaoKo</div>
<div class="wm" style="top:585px">MiaoKo</div>
<div class="wm" style="top:895px">MiaoKo</div>
<div class="wm" style="top:1205px">MiaoKo</div>
<div class="wm" style="top:1515px">MiaoKo</div>
<div class="wm" style="top:1825px">MiaoKo</div>
<div class="wm" style="top:2135px">MiaoKo</div>
<div class="wm" style="top:2445px">MiaoKo</div>
<div class="wm" style="top:2755px">MiaoKo</div>
<div class="wm" style="top:3060px">MiaoKo</div>

<div class="lb"></div>
<div class="bb"></div>
</div></body></html>
